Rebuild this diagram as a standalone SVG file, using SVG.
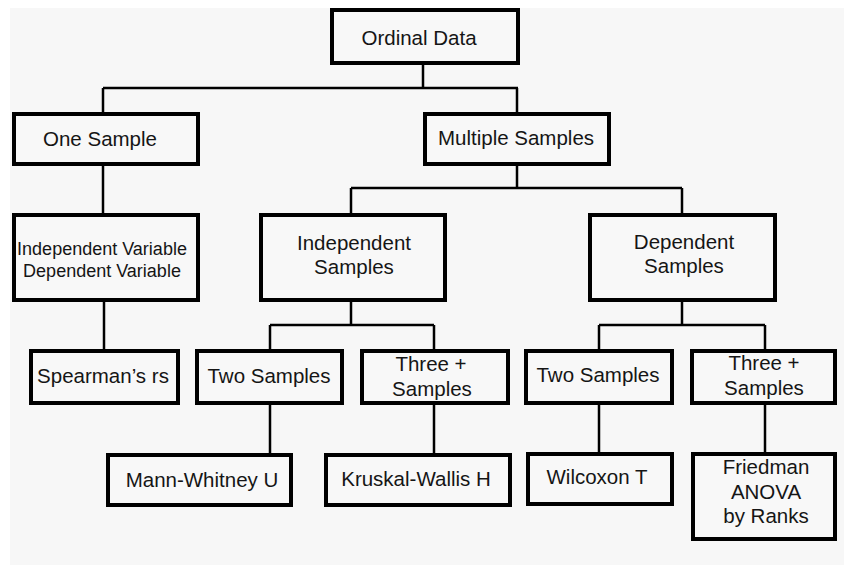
<svg xmlns="http://www.w3.org/2000/svg" width="844" height="567" viewBox="0 0 844 567">
<style>
.box{fill:#f8f8f8;stroke:#000;stroke-width:4}
.t{font-family:"Liberation Sans",Arial,sans-serif;font-size:20.5px;fill:#151515;text-anchor:middle}
.s{font-size:18px}
.c{fill:none;stroke:#000;stroke-width:2.5}
</style>
<rect x="0" y="0" width="844" height="567" fill="#ffffff"/>
<rect x="10" y="8" width="834" height="557" fill="#f7f7f7"/>
<g id="connectors">
<path class="c" d="M423,65V88M103,88H518M103,88V112M517,88V112"/>
<path class="c" d="M103,166V213"/>
<path class="c" d="M104,302V349"/>
<path class="c" d="M517,166V188M351,188H682M351,188V213M682,188V213"/>
<path class="c" d="M351,302V325M270,325H434M270,325V349M434,325V349"/>
<path class="c" d="M682,302V325M599,325H765M599,325V349M765,325V349"/>
<path class="c" d="M270,405V453M434,405V453M599,405V452M765,405V452"/>
</g>
<g id="ordinal"><rect class="box" x="332" y="10" width="186" height="53"/><text class="t" x="419" y="45">Ordinal Data</text></g>
<g id="one-sample"><rect class="box" x="14" y="114" width="184" height="50"/><text class="t" x="100" y="146">One Sample</text></g>
<g id="multiple-samples"><rect class="box" x="425" y="114" width="184" height="50"/><text class="t" x="516" y="145">Multiple Samples</text></g>
<g id="ind-dep-variable"><rect class="box" x="14" y="215" width="184" height="85"/><text class="t s" x="102" y="255">Independent Variable</text><text class="t s" x="102" y="277">Dependent Variable</text></g>
<g id="independent-samples"><rect class="box" x="261" y="215" width="184" height="85"/><text class="t" x="354" y="250">Independent</text><text class="t" x="354" y="274">Samples</text></g>
<g id="dependent-samples"><rect class="box" x="590" y="215" width="185" height="85"/><text class="t" x="684" y="249">Dependent</text><text class="t" x="684" y="273">Samples</text></g>
<g id="spearman"><rect class="box" x="31" y="351" width="147" height="52"/><text class="t" x="103" y="383">Spearman’s rs</text></g>
<g id="two-samples-ind"><rect class="box" x="197" y="351" width="145" height="52"/><text class="t" x="269" y="383">Two Samples</text></g>
<g id="three-samples-ind"><rect class="box" x="362" y="351" width="146" height="52"/><text class="t" x="431" y="371">Three +</text><text class="t" x="432" y="396">Samples</text></g>
<g id="two-samples-dep"><rect class="box" x="526" y="351" width="146" height="52"/><text class="t" x="598" y="382">Two Samples</text></g>
<g id="three-samples-dep"><rect class="box" x="692" y="351" width="143" height="52"/><text class="t" x="764" y="370">Three +</text><text class="t" x="764" y="395">Samples</text></g>
<g id="mann-whitney"><rect class="box" x="108" y="455" width="183" height="50"/><text class="t" x="202" y="487">Mann-Whitney U</text></g>
<g id="kruskal-wallis"><rect class="box" x="326" y="455" width="184" height="50"/><text class="t" x="416" y="486">Kruskal-Wallis H</text></g>
<g id="wilcoxon"><rect class="box" x="528" y="454" width="144" height="50"/><text class="t" x="597" y="484">Wilcoxon T</text></g>
<g id="friedman"><rect class="box" x="693" y="454" width="142" height="85"/><text class="t" x="766" y="474">Friedman</text><text class="t" x="766" y="499">ANOVA</text><text class="t" x="766" y="523">by Ranks</text></g>
</svg>
